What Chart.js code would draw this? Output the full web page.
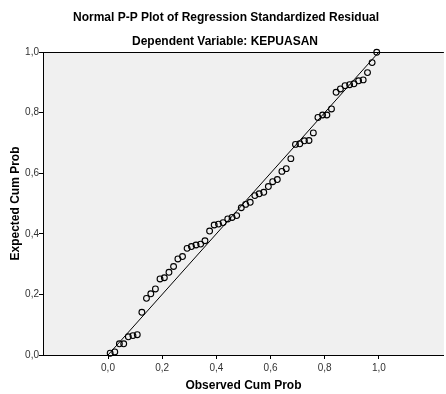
<!DOCTYPE html>
<html>
<head>
<meta charset="utf-8">
<script src="https://cdn.jsdelivr.net/npm/chart.js@4/dist/chart.umd.min.js"></script>
<style>
html,body{margin:0;padding:0;background:#fff;overflow:hidden;}
#wrap{position:relative;width:449px;height:394px;}
</style>
</head>
<body>
<div id="wrap"><canvas id="c" width="449" height="394"></canvas></div>
<script>
const titleText = "Normal P-P Plot of Regression Standardized Residual";
const subtitleText = "Dependent Variable: KEPUASAN";
const xAxisTitle = "Observed Cum Prob";
const yAxisTitle = "Expected Cum Prob";
const tickValues = [0, 0.2, 0.4, 0.6, 0.8, 1.0];

const observedCumProb = [0.008,0.025,0.042,0.058,0.075,0.092,0.108,0.125,0.142,0.158,
 0.175,0.192,0.208,0.225,0.242,0.258,0.275,0.292,0.308,0.325,
 0.342,0.358,0.375,0.392,0.408,0.425,0.442,0.458,0.475,0.492,
 0.508,0.525,0.542,0.558,0.575,0.592,0.608,0.625,0.642,0.658,
 0.675,0.692,0.708,0.725,0.742,0.758,0.775,0.792,0.808,0.825,
 0.842,0.858,0.875,0.892,0.908,0.925,0.942,0.958,0.975,0.992];
const expectedCumProb = [0.006,0.010,0.037,0.037,0.060,0.064,0.067,0.141,0.187,0.202,
 0.218,0.251,0.255,0.273,0.292,0.317,0.325,0.352,0.358,0.363,
 0.366,0.377,0.409,0.429,0.432,0.437,0.449,0.454,0.460,0.486,
 0.497,0.504,0.526,0.532,0.537,0.556,0.572,0.579,0.606,0.615,
 0.648,0.695,0.697,0.707,0.708,0.733,0.784,0.792,0.792,0.812,
 0.867,0.878,0.889,0.892,0.895,0.905,0.908,0.932,0.965,0.999];
const refLineX = [0, 1];
const refLineY = [0, 1];

const points = observedCumProb.map((x, i) => ({x: x, y: expectedCumProb[i]}));
const refLine = refLineX.map((x, i) => ({x: x, y: refLineY[i]}));

const fmt = v => v.toFixed(1).replace('.', ',');

const decor = {
  id: 'decor',
  beforeDraw(chart) {
    const {ctx, chartArea: a} = chart;
    ctx.save();
    ctx.fillStyle = '#F0F0F0';
    ctx.fillRect(a.left, a.top, a.right - a.left, a.bottom - a.top);
    ctx.restore();
  },
  afterDraw(chart) {
    const {ctx, chartArea: a} = chart;
    ctx.save();
    ctx.strokeStyle = '#000';
    ctx.lineWidth = 1;
    ctx.beginPath();
    ctx.moveTo(a.left, a.top + 0.5);
    ctx.lineTo(a.right, a.top + 0.5);
    ctx.stroke();
    ctx.fillStyle = '#000';
    ctx.textAlign = 'center';
    ctx.textBaseline = 'middle';
    ctx.font = 'bold 12px "Liberation Sans", Arial, sans-serif';
    ctx.fillText(titleText, 226, 18);
    ctx.fillText(subtitleText, 225, 42);
    ctx.fillText(xAxisTitle, (a.left + a.right) / 2, 386);
    ctx.translate(16, (a.top + a.bottom) / 2);
    ctx.rotate(-Math.PI / 2);
    ctx.fillText(yAxisTitle, 0, 0);
    ctx.restore();
  }
};

new Chart(document.getElementById('c'), {
  type: 'scatter',
  data: {
    datasets: [
      {
        type: 'line',
        data: refLine,
        borderColor: '#000',
        borderWidth: 1,
        pointRadius: 0,
        fill: false,
        order: 2
      },
      {
        data: points,
        pointRadius: 2.9,
        pointBorderWidth: 1.1,
        pointBorderColor: '#000',
        pointBackgroundColor: 'rgba(0,0,0,0)',
        clip: false,
        order: 1
      }
    ]
  },
  options: {
    responsive: false,
    animation: false,
    devicePixelRatio: 1,
    layout: {padding: {top: 52, left: 0, right: 0, bottom: 0}},
    plugins: {legend: {display: false}, tooltip: {enabled: false}, title: {display: false}},
    scales: {
      x: {
        type: 'linear',
        min: -0.24,
        max: 1.24,
        afterBuildTicks(scale) { scale.ticks = tickValues.map(v => ({value: v})); },
        afterFit(scale) { scale.height = 39; },
        grid: {drawOnChartArea: false, drawTicks: true, tickLength: 4, color: '#000'},
        border: {display: true, color: '#000', width: 1},
        ticks: {
          callback: v => fmt(v),
          font: {family: '"Liberation Sans", Arial, sans-serif', size: 10},
          color: '#333',
          padding: 3,
          maxRotation: 0,
          autoSkip: false
        }
      },
      y: {
        type: 'linear',
        min: 0,
        max: 1,
        afterBuildTicks(scale) { scale.ticks = tickValues.map(v => ({value: v})); },
        afterFit(scale) { scale.width = 43; },
        grid: {drawOnChartArea: false, drawTicks: true, tickLength: 4, color: '#000'},
        border: {display: true, color: '#000', width: 1},
        ticks: {
          callback: v => fmt(v),
          font: {family: '"Liberation Sans", Arial, sans-serif', size: 10},
          color: '#333',
          padding: 0,
          autoSkip: false
        }
      }
    }
  },
  plugins: [decor]
});
</script>
</body>
</html>
